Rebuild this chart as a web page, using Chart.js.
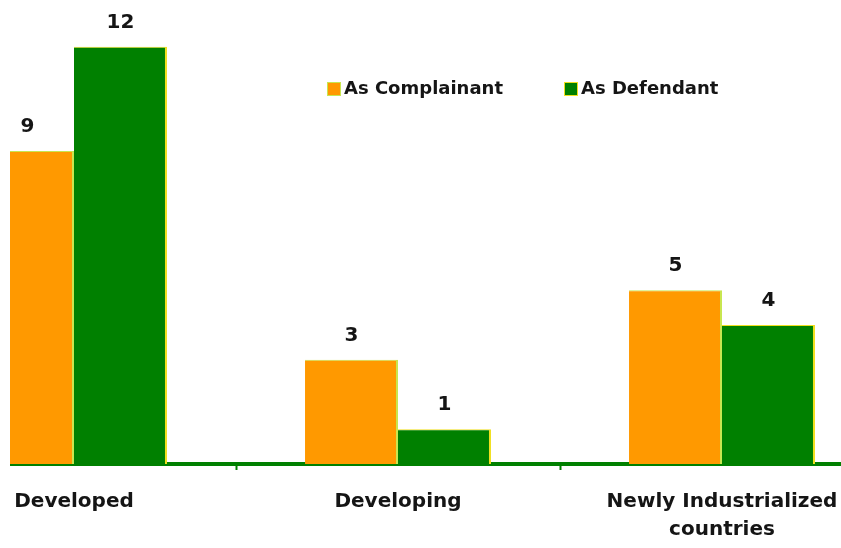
<!DOCTYPE html>
<html>
<head>
<meta charset="utf-8">
<title>Disputes by country group</title>
<script src="https://cdn.jsdelivr.net/npm/chart.js@4.4.1/dist/chart.umd.min.js"></script>
<style>
    html, body { margin: 0; padding: 0; background: #fff; }
    body { width: 841px; height: 548px; position: relative; overflow: hidden; }
    /* the plot runs past the left and right edges, so the frame crops it */
    #frame { position: absolute; left: 10px; top: 0; width: 831px; height: 548px; overflow: hidden; }
    #plot { position: absolute; left: -98px; top: 0; width: 972px; height: 566px; }
</style>
</head>
<body>
<div id="frame">
    <div id="plot"><canvas id="chart"></canvas></div>
</div>
<script>
const groups = ["Developed", "Developing", ["Newly Industrialized", "countries"]];
const complainant = [9, 3, 5];
const defendant = [12, 1, 4];
const seriesNames = ["As Complainant", "As Defendant"];

const ORANGE = "#FF9900";
const GREEN = "#008000";
const FONT = "DejaVu Sans";

// Numbers over each bar
const valueLabels = {
    id: "valueLabels",
    afterDatasetsDraw(chart) {
        const ctx = chart.ctx;
        ctx.save();
        ctx.font = "bold 20px '" + FONT + "'";
        ctx.fillStyle = "#151515";
        ctx.textAlign = "center";
        ctx.textBaseline = "middle";
        chart.data.datasets.forEach((ds, i) => {
            chart.getDatasetMeta(i).data.forEach((bar, j) => {
                ctx.fillText(String(ds.data[j]), bar.x, bar.y - 24);
            });
        });
        ctx.restore();
    }
};

// Legend sits inside the plot, right of the tall bars
const floatLegend = {
    id: "floatLegend",
    afterDraw(chart) {
        const ctx = chart.ctx;
        const items = [
            { x: 415, fill: ORANGE, edge: "#C8E650", text: seriesNames[0] },
            { x: 652, fill: GREEN, edge: "#F0E020", text: seriesNames[1] }
        ];
        ctx.save();
        ctx.font = "bold 18px '" + FONT + "'";
        ctx.textBaseline = "middle";
        items.forEach(it => {
            ctx.fillStyle = it.edge;
            ctx.fillRect(it.x, 82, 14, 14);
            ctx.fillStyle = it.fill;
            ctx.fillRect(it.x + 1, 83, 12, 12);
            ctx.fillStyle = "#151515";
            ctx.fillText(it.text, it.x + 17, 89);
        });
        ctx.restore();
    }
};

new Chart(document.getElementById("chart"), {
    type: "bar",
    data: {
        labels: groups,
        datasets: [
            {
                label: seriesNames[0],
                data: complainant,
                backgroundColor: ORANGE,
                borderColor: "#C8E650",
                borderWidth: { top: 1, right: 2, left: 0, bottom: 0 },
                borderSkipped: false
            },
            {
                label: seriesNames[1],
                data: defendant,
                backgroundColor: GREEN,
                borderColor: "#F0E020",
                borderWidth: { top: 1, right: 2, left: 0, bottom: 0 },
                borderSkipped: false
            }
        ]
    },
    options: {
        responsive: true,
        maintainAspectRatio: false,
        animation: false,
        layout: { padding: { top: 12, bottom: 4, left: 0, right: 0 } },
        plugins: {
            legend: { display: false },
            tooltip: { enabled: false }
        },
        datasets: {
            bar: { barPercentage: 1, categoryPercentage: 0.574 }
        },
        scales: {
            x: {
                grid: {
                    display: true,
                    drawOnChartArea: false,
                    drawTicks: true,
                    tickLength: 6,
                    tickWidth: 2,
                    tickColor: GREEN
                },
                border: { display: true, color: GREEN, width: 4 },
                ticks: {
                    color: "#151515",
                    padding: 18,
                    maxRotation: 0,
                    autoSkip: false,
                    font: { family: FONT, size: 20, weight: "bold", lineHeight: 1.4 }
                }
            },
            y: {
                display: false,
                min: 0,
                max: 13
            }
        }
    },
    plugins: [valueLabels, floatLegend]
});
</script>
</body>
</html>
